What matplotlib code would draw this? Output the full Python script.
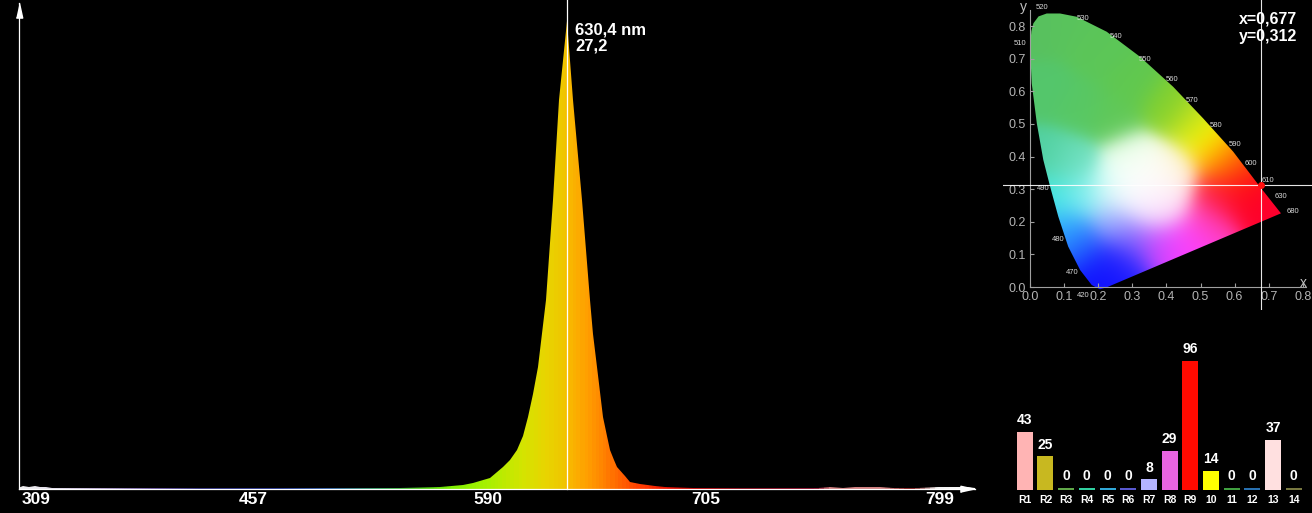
import numpy as np
import matplotlib
matplotlib.use('Agg')
import matplotlib.pyplot as plt
from matplotlib.colors import LinearSegmentedColormap, Normalize, to_rgb
from matplotlib.patches import Polygon

plt.rcParams['font.family'] = ['Liberation Sans', 'DejaVu Sans']

# ---------------- data ----------------
wavelength = [297, 300, 304, 308, 312, 316, 320, 330, 360, 420, 500, 540,
              562.8, 575.9, 581.5, 591.0, 597.7, 601.3, 604.7, 607.8, 610.6, 613.2, 615.7,
              619.5, 623.1, 626.3, 630.4, 633.6, 638.3, 642.7, 644.6, 646.3, 649.7,
              651.6, 653.5, 655.6, 657.1, 661.5, 664.2, 669.6, 677.6, 683.0, 698.0,
              720, 750, 755, 760, 765, 770, 775, 780, 790, 798, 802, 806, 810, 813]
intensity = [0.07, 0.16, 0.12, 0.18, 0.14, 0.10, 0.07, 0.07, 0.07, 0.07, 0.07, 0.08,
             0.10, 0.21, 0.35, 0.64, 1.3, 1.69, 2.27, 3.1, 4.2, 5.5, 7.1,
             11.0, 16.8, 22.6, 27.2, 22.6, 16.8, 11.0, 9.0, 7.1, 4.2,
             3.1, 2.27, 1.69, 1.3, 0.75, 0.40, 0.30, 0.20, 0.12, 0.08,
             0.07, 0.07, 0.11, 0.08, 0.12, 0.09, 0.12, 0.08, 0.07, 0.10, 0.14, 0.10, 0.13, 0.08]
peak_wl = 630.4
peak_val = 27.2
tick_wl = [309, 457, 590, 705, 799]

cie_x, cie_y = 0.677, 0.312
locus_x = [0.225, 0.205, 0.181, 0.147, 0.112, 0.083, 0.059, 0.039, 0.020, 0.005,
           0.000, 0.004, 0.010, 0.025, 0.049, 0.088, 0.137, 0.225, 0.323, 0.420,
           0.508, 0.596, 0.674, 0.736]
locus_y = [-0.001, -0.007, 0.006, 0.052, 0.124, 0.216, 0.308, 0.390, 0.502, 0.625,
           0.737, 0.785, 0.809, 0.830, 0.839, 0.839, 0.829, 0.783, 0.706, 0.614,
           0.517, 0.415, 0.308, 0.226]
nm_labels = ['520', '530', '540', '550', '560', '570', '580', '590', '600', '610',
             '630', '680', '510', '490', '480', '470', '420']
nm_lab_x = [0.035, 0.155, 0.252, 0.337, 0.416, 0.475, 0.545, 0.601, 0.648, 0.698,
            0.736, 0.771, -0.029, 0.038, 0.082, 0.123, 0.155]
nm_lab_y = [0.856, 0.825, 0.767, 0.699, 0.635, 0.571, 0.494, 0.436, 0.380, 0.328,
            0.279, 0.233, 0.748, 0.301, 0.147, 0.046, -0.025]

cri_labels = ['R1', 'R2', 'R3', 'R4', 'R5', 'R6', 'R7', 'R8', 'R9', '10', '11', '12', '13', '14']
cri_values = [43, 25, 0, 0, 0, 0, 8, 29, 96, 14, 0, 0, 37, 0]
cri_colors = ['#ffb4b4', '#c8b820', '#60a848', '#30d0a0', '#30a8d8', '#5858d0', '#b4b4ff',
              '#e864e0', '#ff0a00', '#ffff00', '#40a040', '#2870b0', '#ffe0e0', '#787840']

# ---------------- figure ----------------
W, H = 1312, 513
fig = plt.figure(figsize=(W / 100, H / 100), dpi=100, facecolor='black')

# ---------- spectrum ----------
POS_WL = [200, 309, 457, 590, 630.4, 705, 799, 1000]
POS_PX = [-123.8, 36, 253, 488, 567, 706, 940, 1440]


def fwd(x):
    return np.interp(x, POS_WL, POS_PX)


def inv(p):
    return np.interp(p, POS_PX, POS_WL)


x0, x1, ybase, ytop = 19, 975, 489, 3
ax = fig.add_axes([x0 / W, (H - ybase) / H, (x1 - x0) / W, (ybase - ytop) / H])
ax.set_facecolor('black')
ax.set_xscale('function', functions=(fwd, inv))
ax.set_xlim(inv(x0), inv(x1))
ymax = (ybase - ytop) / 17.2
ax.set_ylim(0, ymax)

spec_stops = [(297, '#f0f0f0'), (320, '#e0dce8'), (350, '#b0a0c8'), (390, '#604c98'),
              (420, '#282878'), (470, '#1c2c88'), (500, '#2858a0'), (530, '#30a058'),
              (555, '#50d010'), (570, '#80f000'), (590, '#a8f000'), (608, '#d4e400'),
              (620, '#e8d400'), (630, '#f0c400'), (632, '#f8b800'), (641, '#ffa000'),
              (650, '#ff8400'), (662, '#ff5800'), (672, '#ff3800'), (685, '#e81000'),
              (700, '#c00000'), (720, '#800010'), (750, '#800020'), (756, '#d08080'),
              (778, '#d08080'), (788, '#700000'), (798, '#f0f0f0'), (813, '#ffffff')]
lo, hi = spec_stops[0][0], spec_stops[-1][0]
spec_cmap = LinearSegmentedColormap.from_list(
    'spec', [((w - lo) / (hi - lo), c) for w, c in spec_stops])

fill = ax.fill_between(wavelength, intensity, color='none', lw=0)
xe = np.linspace(lo, hi, 800)
xc = 0.5 * (xe[1:] + xe[:-1])
mesh = ax.pcolormesh(xe, [0, ymax], xc[None, :], cmap=spec_cmap,
                     norm=Normalize(lo, hi), shading='flat')
mesh.set_clip_path(fill.get_paths()[0], ax.transData)

ax.axvline(peak_wl, ymin=0, ymax=1 + 3 / 486, color='white', lw=0.9, clip_on=False)
ax.annotate(f"{peak_wl:.1f} nm\n{peak_val:.1f}".replace('.', ','),
            xy=(peak_wl, peak_val), xytext=(5.8, -0.7), textcoords='offset points',
            ha='left', va='top', color='white', fontsize=12, fontweight='bold',
            linespacing=1.08)

for s in ['top', 'right']:
    ax.spines[s].set_visible(False)
for s in ['left', 'bottom']:
    ax.spines[s].set_color('white')
    ax.spines[s].set_linewidth(0.9)
ax.set_yticks([])
ax.set_xticks(tick_wl)
ax.set_xticklabels([str(t) for t in tick_wl])
ax.tick_params(axis='x', length=0, pad=2.5, labelcolor='white', labelsize=12.5)
for lab in ax.get_xticklabels():
    lab.set_fontweight('bold')
ax.minorticks_off()
ax.plot([0], [1], transform=ax.transAxes, marker=[(-0.22, -1), (0.22, -1), (0, 0)],
        markersize=21, color='white', clip_on=False)
ax.plot([1], [0], transform=ax.transAxes, marker=[(-1, -0.22), (-1, 0.22), (0, 0)],
        markersize=21, color='white', clip_on=False)

# ---------- CIE diagram ----------
cl, cr, ct, cb = 1003, 1312, 0, 310
cx = fig.add_axes([cl / W, (H - cb) / H, (cr - cl) / W, (cb - ct) / H])
cx.set_facecolor('black')
xlim = ((cl - 1030) / 341, (cr - 1030) / 341)
ylim = ((287 - cb) / 326, 287 / 326)
cx.set_xlim(*xlim)
cx.set_ylim(*ylim)

anchors = [
    (0.02, 0.80, '#58c060'), (0.10, 0.80, '#5ac45c'), (0.20, 0.72, '#5cc658'),
    (0.30, 0.62, '#60c850'), (0.05, 0.60, '#54c66c'), (0.15, 0.55, '#58c864'),
    (0.25, 0.52, '#60c858'), (0.40, 0.55, '#80d030'), (0.47, 0.50, '#c0e020'),
    (0.52, 0.45, '#ffff00'), (0.56, 0.40, '#ffa000'), (0.60, 0.37, '#ff6000'),
    (0.64, 0.33, '#ff1010'), (0.62, 0.28, '#ff0020'), (0.70, 0.26, '#ff0030'),
    (0.55, 0.28, '#ff2040'), (0.33, 0.32, '#ffffff'), (0.36, 0.28, '#fff4ff'),
    (0.30, 0.30, '#ffffff'), (0.38, 0.33, '#ffffff'), (0.34, 0.36, '#fbfff8'),
    (0.35, 0.24, '#f8e8ff'), (0.40, 0.25, '#ffd8f4'), (0.24, 0.30, '#d8fff8'),
    (0.30, 0.40, '#e8ffe8'), (0.42, 0.36, '#fff0d0'), (0.05, 0.40, '#50d0a0'),
    (0.12, 0.38, '#70e0c0'), (0.06, 0.28, '#40e8e0'), (0.15, 0.28, '#80f0f0'),
    (0.10, 0.18, '#30b0ff'), (0.15, 0.12, '#2060ff'), (0.20, 0.04, '#1010ff'),
    (0.26, 0.08, '#2020ff'), (0.30, 0.15, '#8060ff'), (0.38, 0.14, '#d040ff'),
    (0.46, 0.14, '#ff40ff'), (0.52, 0.20, '#ff40c0'), (0.25, 0.20, '#a0b8ff'),
]
ax_x = np.array([a[0] for a in anchors])
ax_y = np.array([a[1] for a in anchors])
ax_c = np.array([to_rgb(a[2]) for a in anchors])
gx = np.linspace(xlim[0], xlim[1], 320)
gy = np.linspace(ylim[0], ylim[1], 320)
GX, GY = np.meshgrid(gx, gy)
d2 = (GX[..., None] - ax_x) ** 2 + (GY[..., None] - ax_y) ** 2
wgt = np.exp(-d2 / (2 * 0.05 ** 2)) + 1e-12
img = (wgt[..., None] * ax_c).sum(axis=2) / wgt.sum(axis=2)[..., None]
im = cx.imshow(img, extent=[xlim[0], xlim[1], ylim[0], ylim[1]], origin='lower',
               aspect='auto', interpolation='bilinear', zorder=1)
poly = Polygon(np.column_stack([locus_x, locus_y]), closed=True,
               transform=cx.transData, facecolor='none', edgecolor='none')
cx.add_patch(poly)
im.set_clip_path(poly)

for s in ['top', 'right']:
    cx.spines[s].set_visible(False)
cx.spines['left'].set_position(('data', 0))
cx.spines['bottom'].set_position(('data', 0))
cx.spines['left'].set_bounds(0, 0.85)
cx.spines['bottom'].set_bounds(0, 0.81)
for s in ['left', 'bottom']:
    cx.spines[s].set_color('#a0a0a0')
    cx.spines[s].set_linewidth(0.8)
ticks = np.round(np.arange(0, 0.81, 0.1), 1)
cx.set_xticks(ticks)
cx.set_yticks(ticks)
cx.set_xticklabels([f"{t:.1f}" for t in ticks])
cx.set_yticklabels([f"{t:.1f}" for t in ticks])
cx.tick_params(direction='in', length=3, width=0.8, color='#a0a0a0',
               labelcolor='#b4b4b4', labelsize=9, pad=3)
cx.text(-0.02, 0.859, 'y', color='#c0c0c0', fontsize=10, ha='center', va='center')
cx.text(0.803, 0.013, 'x', color='#c0c0c0', fontsize=10, ha='center', va='center')
for t, lx, ly in zip(nm_labels, nm_lab_x, nm_lab_y):
    cx.text(lx, ly, t, color='#d8d8d8', fontsize=5.5, ha='center', va='center')

cx.axvline(cie_x, color='white', lw=0.8, alpha=0.9, zorder=3)
cx.axhline(cie_y, color='white', lw=0.8, alpha=0.9, zorder=3)
cx.plot([cie_x], [cie_y], 'o', color='#ff1010', markersize=4, zorder=4)
cx.text(0.783, 0.8436, f"x={cie_x:.3f}\ny={cie_y:.3f}".replace('.', ','),
        color='white', fontsize=11.5, fontweight='bold', ha='right', va='top',
        linespacing=1.15, zorder=5)

# ---------- CRI bars ----------
bl, br, bt, bb = 1010, 1310, 340, 490
bx = fig.add_axes([bl / W, (H - bb) / H, (br - bl) / W, (bb - bt) / H])
bx.set_facecolor('black')
bx.set_xlim(-0.71, 13.78)
bx.set_ylim(0, (bb - bt) / 1.347)
idx = np.arange(len(cri_values))
shown = np.maximum(np.array(cri_values, dtype=float), 1.7)
bx.bar(idx, shown, width=0.773, color=cri_colors)
for i, (v, h) in enumerate(zip(cri_values, shown)):
    bx.annotate(str(v), xy=(i, h), xytext=(0, 3.4), textcoords='offset points',
                ha='center', va='bottom', color='white', fontsize=10, fontweight='bold')
bx.set_xticks(idx)
bx.set_xticklabels(cri_labels)
bx.tick_params(axis='x', length=0, pad=3.6, labelcolor='white', labelsize=7.5)
for lab in bx.get_xticklabels():
    lab.set_fontweight('bold')
bx.set_yticks([])
for s in bx.spines.values():
    s.set_visible(False)

fig.savefig('out.png', dpi=100, facecolor='black')
